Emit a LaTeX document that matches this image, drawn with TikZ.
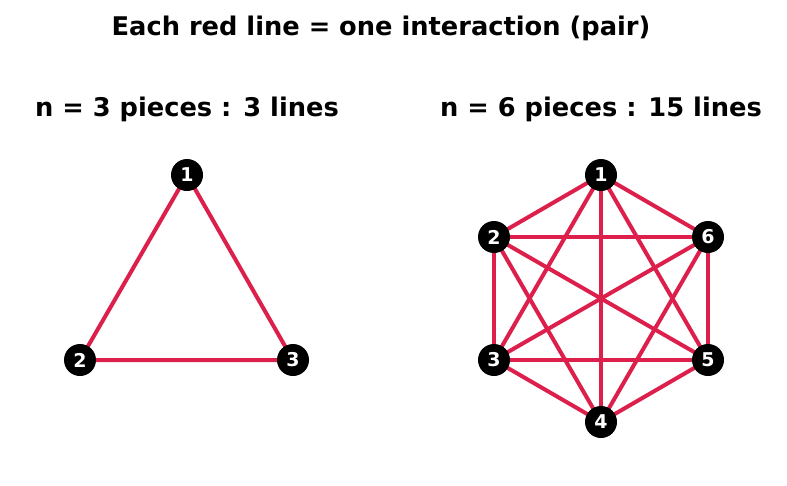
\documentclass[tikz,border=0pt]{standalone}
\usepackage{fontspec}
\setmainfont{DejaVu Sans}
\definecolor{edgered}{HTML}{DC1F4B}
\begin{document}
\begin{tikzpicture}[x=1pt,y=-1pt,
  vtx/.style={circle,fill=black,minimum size=32pt,inner sep=0pt,text=white,font=\fontsize{19}{21}\selectfont\bfseries},
  edge/.style={draw=edgered,line width=4pt},
  ttl/.style={font=\fontsize{25.7}{30}\selectfont\bfseries,inner sep=0pt,anchor=base}]
\useasboundingbox (0,0) rectangle (787,485);
\node[ttl] (title) at (381,35) {Each red line = one interaction (pair)};
\node[ttl] (sub1) at (187,116) {n = 3 pieces : 3 lines};
\node[ttl] (sub2) at (601,116) {n = 6 pieces : 15 lines};
% triangle
\coordinate (a1) at (187,175);
\coordinate (a2) at (80,360);
\coordinate (a3) at (293,360);
\draw[edge] (a1) -- (a2) (a2) -- (a3) (a3) -- (a1);
\node[vtx] (t1) at (a1) {1};
\node[vtx] (t2) at (a2) {2};
\node[vtx] (t3) at (a3) {3};
% hexagon
\coordinate (b1) at (601,175);
\coordinate (b2) at (494,237);
\coordinate (b3) at (494,360);
\coordinate (b4) at (601,422);
\coordinate (b5) at (708,360);
\coordinate (b6) at (708,237);
\foreach \i/\j in {1/2,1/3,1/4,1/5,1/6,2/3,2/4,2/5,2/6,3/4,3/5,3/6,4/5,4/6,5/6}
  \draw[edge] (b\i) -- (b\j);
\foreach \i in {1,...,6}
  \node[vtx] (h\i) at (b\i) {\i};
\end{tikzpicture}
\end{document}
